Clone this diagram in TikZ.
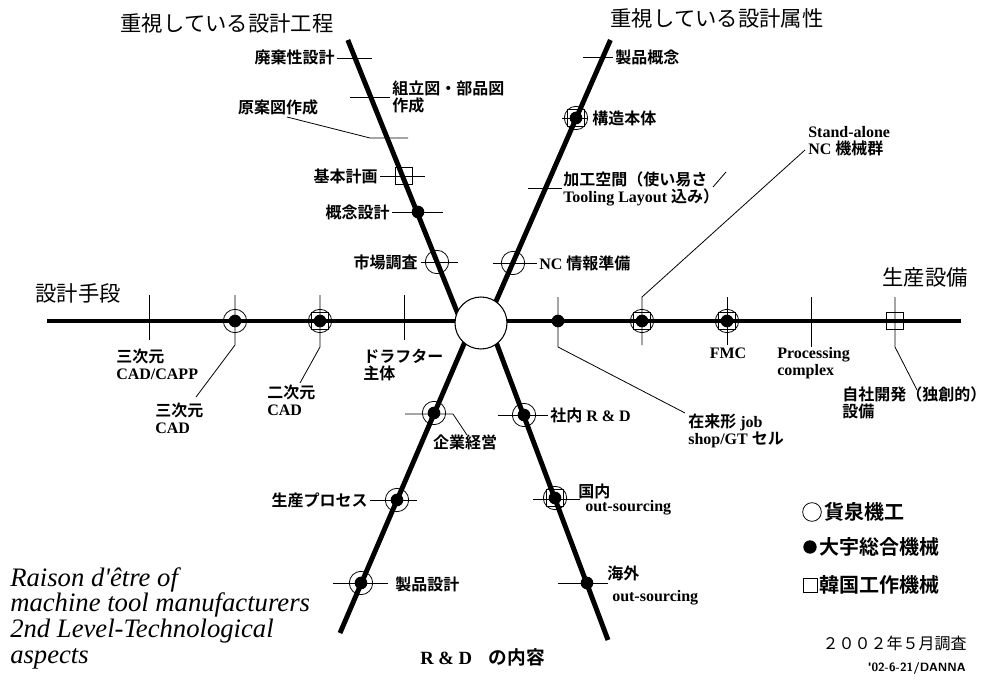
\documentclass[tikz,border=0pt]{standalone}
\usepackage{fontspec}
\setmainfont{Liberation Serif}
\newfontfamily\jp{Noto Sans CJK JP}[BoldFont={Noto Sans CJK JP Bold}]
\newcommand{\J}[1]{{\jp\bfseries #1}}
\newcommand{\JR}[1]{{\jp #1}}
\newcommand{\B}[1]{\textbf{#1}}
\tikzset{
  axis/.style={line width=3.7pt},
  tk/.style={line width=0.6pt},
  ring/.style={circle, draw, line width=0.6pt, minimum size=17.5pt, inner sep=0pt},
  dotm/.style={circle, fill, minimum size=9.5pt, inner sep=0pt},
  sqm/.style={rectangle, draw, line width=0.6pt, minimum size=12.5pt, inner sep=0pt},
  hub/.style={circle, draw, fill=white, line width=0.8pt, minimum size=39pt, inner sep=0pt},
  lbl/.style={inner sep=0pt, align=left, font=\fontsize{12}{12.5}\selectfont},
  ttl/.style={inner sep=0pt, font=\fontsize{16}{18}\selectfont\jp},
  lgd/.style={inner sep=0pt, anchor=west, font=\fontsize{15}{17}\selectfont},
  ital/.style={inner sep=0pt, anchor=base west, font=\fontsize{20}{20}\selectfont\itshape}
}
\begin{document}
\begin{tikzpicture}[x=0.75pt,y=-0.75pt]
\useasboundingbox (0,0) rectangle (988,684);
% ---------- axes ----------
\coordinate (ulT) at (347.8,40); \coordinate (ulB) at (466,334);
\coordinate (urT) at (610.4,40); \coordinate (urB) at (490,315);
\coordinate (llB) at (340,633);  \coordinate (llT) at (470,330);
\coordinate (lrB) at (608,640);  \coordinate (lrT) at (490,326);
\coordinate (hL) at (47,321);    \coordinate (hR) at (961,321);
\draw[axis] (ulT) -- (ulB);
\draw[axis] (urT) -- (urB);
\draw[axis] (llB) -- (llT);
\draw[axis] (lrB) -- (lrT);
\draw[axis] (hL) -- (hR);
\node[hub] (hub) at (481,323) {};
% ---------- titles ----------
\node[ttl] (t1) at (227,23) {重視している設計工程};
\node[ttl] (t2) at (717,18) {重視している設計属性};
\node[ttl] (t3) at (78,293) {設計手段};
\node[ttl] (t4) at (925,277) {生産設備};
\node[inner sep=0pt, anchor=west, font=\fontsize{14}{16}\selectfont] (t5) at (420,657) {\B{R \& D}\hspace{0.9em}\J{の内容}};
% ---------- upper-left axis ----------
\draw[tk] (337,58) -- (372,58);
\node[lbl, anchor=east] (l1) at (335,57) {\J{廃棄性設計}};
\draw[tk] (350,97) -- (390,97);
\node[lbl, anchor=west] (l2) at (392,97) {\J{組立図・部品図}\\\J{作成}};
\node[lbl] (l3) at (278,107) {\J{原案図作成}};
\coordinate (l3a) at (287,117);
\coordinate (l3b) at (370,138);
\coordinate (l3c) at (408,138);
\draw[tk] (l3a) -- (l3b) -- (l3c);
\draw[tk] (380,176) -- (425,176);
\node[sqm] (m4) at (404,176) {};
\node[lbl, anchor=east] (l4) at (378,176) {\J{基本計画}};
\draw[tk] (392,212) -- (443,212);
\node[dotm] (m5) at (418,212) {};
\node[lbl, anchor=east] (l5) at (390,212) {\J{概念設計}};
\draw[tk] (421,262) -- (458,262);
\node[ring] (m6) at (437,262) {};
\node[lbl, anchor=east] (l6) at (418,262) {\J{市場調査}};
% ---------- upper-right axis ----------
\draw[tk] (583,57) -- (613,57);
\node[lbl, anchor=west] (l7) at (615,57) {\J{製品概念}};
\draw[tk] (562,118) -- (588,118);
\node[ring] (m8r) at (576,118) {};
\node[dotm] (m8d) at (576,118) {};
\node[sqm] (m8s) at (576,118) {};
\node[lbl, anchor=west] (l8) at (592,118) {\J{構造本体}};
\draw[tk] (528,188) -- (562,188);
\node[lbl, anchor=west] (l9) at (563,189) {\J{加工空間（使い易さ}\\\B{Tooling Layout} \J{込み）}};
\draw[tk] (713,187) -- (726,172);
\draw[tk] (493,263) -- (537,263);
\node[ring] (m10) at (513,263) {};
\node[lbl, anchor=west] (l10) at (539,263) {\B{NC} \J{情報準備}};
% ---------- horizontal axis, left ----------
\draw[tk] (149,295) -- (149,340);
\node[lbl, anchor=west] (l11) at (116,364) {\J{三次元}\\\B{CAD/CAPP}};
\node[ring] (m12r) at (235,321) {};
\node[dotm] (m12d) at (235,321) {};
\coordinate (k12a) at (235,295); \coordinate (k12b) at (235,345);
\node[lbl, anchor=west] (l12) at (155,418) {\J{三次元}\\\B{CAD}};
\draw[tk] (k12a) -- (k12b) -- (196,397);
\node[ring] (m13r) at (320,321) {};
\node[dotm] (m13d) at (320,321) {};
\node[sqm] (m13s) at (320,321) {};
\node[lbl, anchor=west] (l13) at (267,400) {\J{二次元}\\\B{CAD}};
\draw[tk] (320,295) -- (320,347) -- (300,383);
\draw[tk] (404,295) -- (404,340);
\node[lbl, anchor=west] (l14) at (363,365) {\J{ドラフター}\\\J{主体}};
% ---------- horizontal axis, right ----------
\node[dotm] (m15) at (558,321) {};
\node[lbl, anchor=west] (l15) at (688,431) {\J{在来形} \B{job}\\\B{shop/GT} \J{セル}};
\draw[tk] (558,297) -- (558,347) -- (685,413);
\node[ring] (m16r) at (642,321) {};
\node[dotm] (m16d) at (642,321) {};
\node[sqm] (m16s) at (642,321) {};
\node[lbl, anchor=west] (l16) at (808,141) {\B{Stand-alone}\\\B{NC} \J{機械群}};
\draw[tk] (642,345) -- (642,297) -- (805,150);
\node[ring] (m17r) at (727,321) {};
\node[dotm] (m17d) at (727,321) {};
\node[sqm] (m17s) at (727,321) {};
\draw[tk] (727,297) -- (727,345);
\node[lbl] (l17) at (728,353) {\B{FMC}};
\draw[tk] (811,297) -- (811,347);
\node[lbl, anchor=west] (l18) at (777,363) {\B{Processing}\\\B{complex}};
\node[sqm] (m19) at (895,321) {};
\draw[tk] (895,297) -- (895,347) -- (917,390);
\node[lbl, anchor=west] (l19) at (842,403) {\J{自社開発（独創的）}\\\J{設備}};
% ---------- lower-left axis ----------
\node[ring] (m20r) at (434,413) {};
\node[dotm] (m20d) at (434,413) {};
\node[lbl, anchor=north] (l20) at (465,435) {\J{企業経営}};
\draw[tk] (405,414) -- (453,414) -- (467,435);
\draw[tk] (370,500) -- (417,500);
\node[ring] (m21r) at (397,500) {};
\node[dotm] (m21d) at (397,500) {};
\node[lbl, anchor=east] (l21) at (368,500) {\J{生産プロセス}};
\draw[tk] (333,583) -- (388,583);
\node[ring] (m22r) at (361,583) {};
\node[dotm] (m22d) at (361,583) {};
\node[lbl, anchor=west] (l22) at (395,584) {\J{製品設計}};
% ---------- lower-right axis ----------
\draw[tk] (498,415) -- (548,415);
\node[ring] (m23r) at (524,415) {};
\node[dotm] (m23d) at (524,415) {};
\node[lbl, anchor=west] (l23) at (550,415) {\J{社内} \B{R \& D}};
\draw[tk] (533,499) -- (580,499);
\node[ring] (m24r) at (555,498) {};
\node[dotm] (m24d) at (555,498) {};
\node[sqm] (m24s) at (555,498) {};
\node[lbl, anchor=west] (l24a) at (578,491) {\J{国内}};
\node[lbl, anchor=west] (l24b) at (585,508) {\B{out-sourcing}};
\draw[tk] (558,583) -- (608,583);
\node[dotm] (m25) at (587,583) {};
\node[lbl, anchor=west] (l25a) at (607,573) {\J{海外}};
\node[lbl, anchor=west] (l25b) at (612,598) {\B{out-sourcing}};
% ---------- legend ----------
\node[ring, minimum size=14pt] (g1) at (812,512) {};
\node[lgd] (g1t) at (824,512) {\J{貨泉機工}};
\node[dotm, minimum size=10pt] (g2) at (810,547) {};
\node[lgd] (g2t) at (819,547) {\J{大宇総合機械}};
\node[sqm, minimum size=10.5pt] (g3) at (810,585) {};
\node[lgd] (g3t) at (819,585) {\J{韓国工作機械}};
\node[inner sep=0pt, anchor=east, font=\fontsize{12}{14}\selectfont] (d1) at (967,643) {\JR{２００２年５月調査}};
\node[inner sep=0pt, anchor=east, font=\fontsize{9}{10}\selectfont\sffamily\bfseries] (d2) at (966,668) {\textquotesingle 02-6-21/DANNA};
% ---------- caption ----------
\node[ital] (c1) at (10,586) {Raison d\textquotesingle être of};
\node[ital] (c2) at (10,611) {machine tool manufacturers};
\node[ital] (c3) at (10,637) {2nd Level-Technological};
\node[ital] (c4) at (10,663) {aspects};
\end{tikzpicture}
\end{document}
